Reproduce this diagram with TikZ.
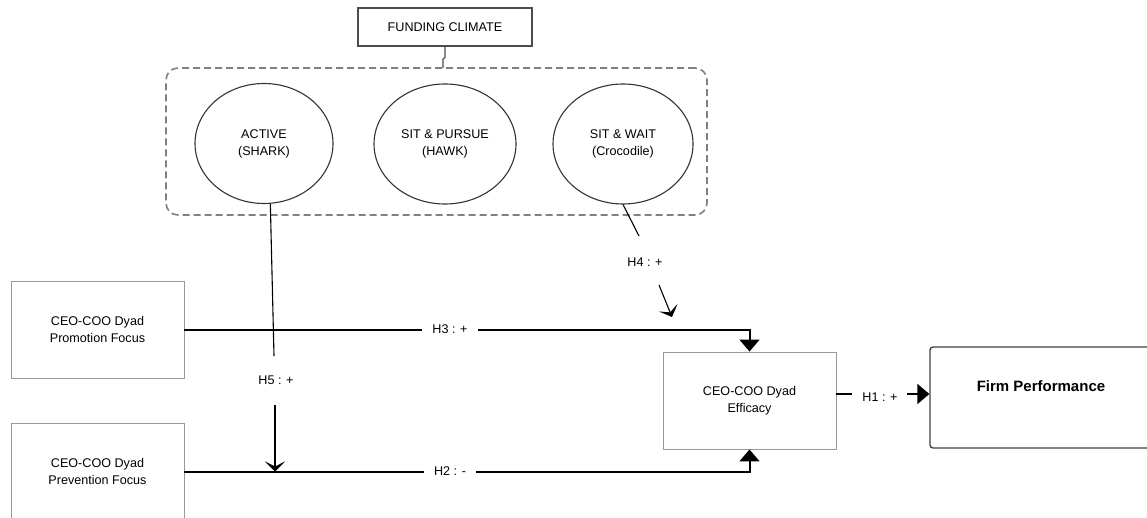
\documentclass[tikz,border=0pt]{standalone}
\usepackage{fontspec}
\setmainfont{Liberation Sans}
\usetikzlibrary{arrows.meta,shapes.geometric}
\begin{document}
\begin{tikzpicture}[x=1pt,y=-1pt,
  every node/.style={font=\fontsize{12.6}{17}\selectfont, align=center, inner sep=0pt},
  gbox/.style={draw=black!40, line width=0.9pt, minimum width=173pt, minimum height=97pt},
  ell/.style={draw=black!80, line width=1.1pt, ellipse},
  hlabel/.style={inner xsep=10pt, inner ysep=3pt},
  conn/.style={line width=2pt},
  thinconn/.style={line width=1.1pt},
  bigtip/.style={-{Triangle[length=12pt,width=20pt]}},
  vtip/.style={-{Stealth[length=10pt,width=20pt,inset=5pt]}}
]
\useasboundingbox (0,0) rectangle (1147,518);
\clip (0,0) rectangle (1147,518);

% funding climate group
\node[draw=black!50, dash pattern=on 7pt off 4pt, line width=1.6pt, rounded corners=12pt,
      minimum width=541pt, minimum height=147pt] (group) at (436.5,141.5) {};
\node[draw=black!70, line width=1.1pt, minimum width=174pt, minimum height=38pt] (fund) at (445,27) {FUNDING CLIMATE};
\coordinate (jog) at (443,68);
\draw[black!70, line width=1.1pt] (fund.south) -- ++(0,11) -- ++(-2,1.5) -- (jog);

\node[ell, minimum width=138pt, minimum height=120pt] (active) at (264,143.5) {ACTIVE\\(SHARK)};
\node[ell, minimum width=142pt, minimum height=120pt] (pursue) at (445,144) {SIT \& PURSUE\\(HAWK)};
\node[ell, minimum width=140pt, minimum height=120pt] (wait) at (623,144) {SIT \& WAIT\\(Crocodile)};

% boxes
\node[gbox] (promo) at (97.5,329.5) {CEO-COO Dyad\\Promotion Focus};
\node[gbox] (prev) at (97.5,471.5) {CEO-COO Dyad\\Prevention Focus};
\node[gbox] (eff) at (749.5,400.5) {CEO-COO Dyad\\Efficacy};
\node[draw=black!75, line width=1.3pt, rounded corners=3pt, minimum width=230pt, minimum height=101pt] (firm) at (1045,397.5) {};
\node[font=\fontsize{15}{18}\selectfont\bfseries] (firmtext) at (1041,386) {Firm Performance};

% H3
\node[hlabel] (h3) at (450,329.5) {H3 : +};
\draw[conn] (promo.east) -- (h3.west);
\draw[conn, bigtip] (h3.east) -| (eff.north);

% H2
\node[hlabel] (h2) at (450,471.5) {H2 : -};
\draw[conn] (prev.east) -- (h2.west);
\draw[conn, bigtip] (h2.east) -| (eff.south);

% H1
\node[hlabel] (h1) at (880,397) {H1 : +};
\coordinate (h1a) at (836,394);
\coordinate (h1b) at (852,394);
\coordinate (h1c) at (907,394);
\draw[conn] (eff.east |- h1a) -- (h1b);
\draw[conn, bigtip] (h1c) -- (firm.west |- h1c);

% H5
\node (h5) at (276,380) {H5 : +};
\coordinate (h5a) at (274,356);
\coordinate (h5b) at (275,405);
\coordinate (h5tip) at (275,471.5);
\draw[thinconn] (active.-84) -- (h5a);
\draw[thinconn, vtip] (h5b) -- (h5tip);

% H4
\node (h4) at (645,262) {H4 : +};
\coordinate (h4a) at (639,236);
\coordinate (h4b) at (659,285);
\coordinate (h4tip) at (672,317);
\draw[thinconn] (wait.south) -- (h4a);
\draw[thinconn, vtip] (h4b) -- (h4tip);
\end{tikzpicture}
\end{document}
